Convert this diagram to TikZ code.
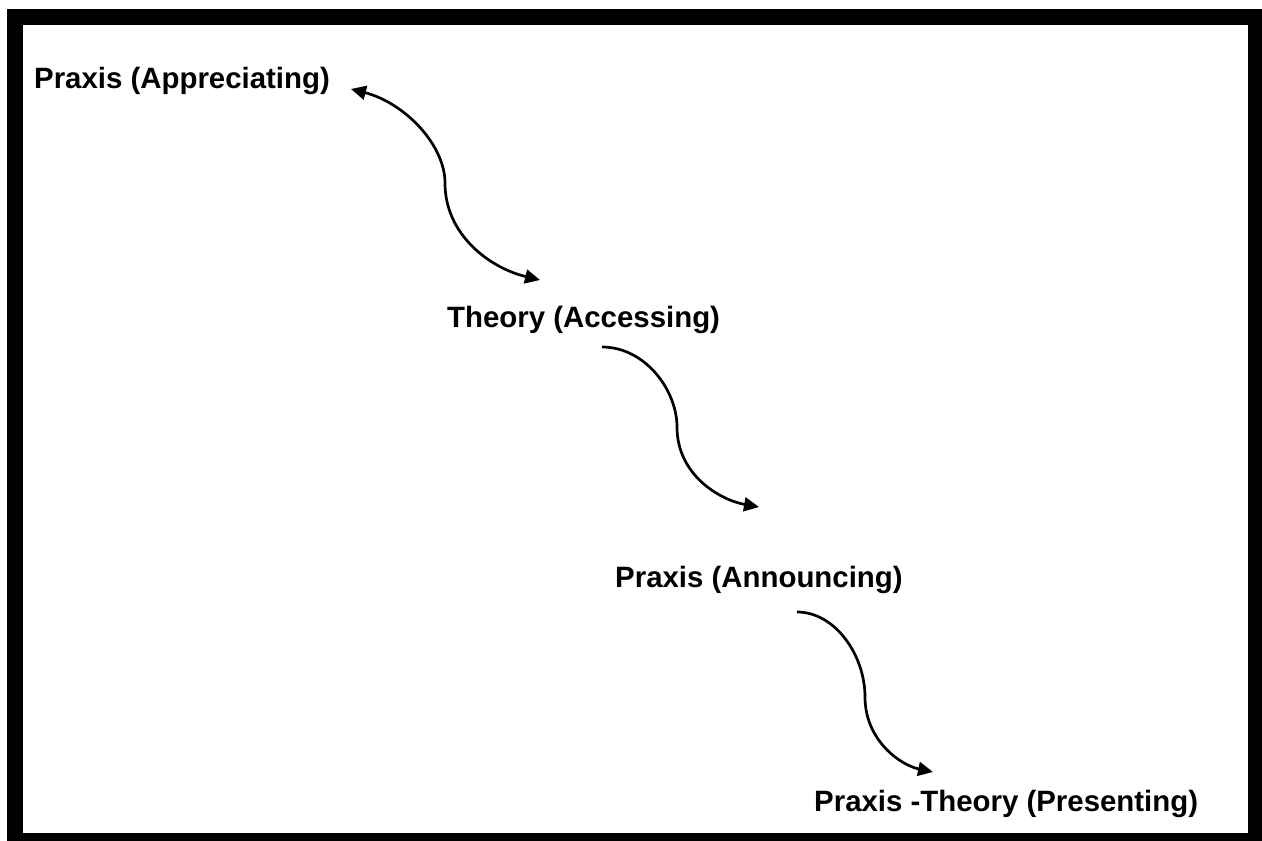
\documentclass[tikz,border=0pt]{standalone}
\usepackage{fontspec}
\setmainfont{Liberation Sans}
\usetikzlibrary{arrows.meta}
\begin{document}
\begin{tikzpicture}[x=1pt,y=-1pt,
  lbl/.style={anchor=base west,inner sep=0pt,font=\fontsize{29.4}{35}\selectfont\bfseries},
  conn/.style={line width=2.7pt,-{Triangle[length=15pt,width=14pt]}},
  dconn/.style={line width=2.7pt,{Triangle[length=15pt,width=14pt]}-{Triangle[length=15pt,width=14pt]}}]
\useasboundingbox (0,0) rectangle (1262,841);
\fill[white] (0,0) rectangle (1262,841);
\fill[black] (7,9) rectangle (1262,841);
\fill[white] (23,25) rectangle (1248,833);
\node[lbl] (t1) at (34,88) {Praxis (Appreciating)};
\node[lbl] (t2) at (447,327) {Theory (Accessing)};
\node[lbl] (t3) at (615,587) {Praxis (Announcing)};
\node[lbl] (t4) at (814,811) {Praxis -Theory (Presenting)};
\coordinate (a1s) at (351,89);
\coordinate (a1e) at (540,280);
\coordinate (a2s) at (602,347);
\coordinate (a2e) at (759,507);
\coordinate (a3s) at (797,612);
\coordinate (a3e) at (933,772);
\draw[dconn] (a1s) .. controls (405,103) and (445,145) .. (445,183) .. controls (445,235) and (490,268) .. (a1e);
\draw[conn] (a2s) .. controls (645,347) and (677,390) .. (677,427) .. controls (677,475) and (720,500) .. (a2e);
\draw[conn] (a3s) .. controls (835,612) and (865,655) .. (865,697) .. controls (865,740) and (900,765) .. (a3e);
\end{tikzpicture}
\end{document}
